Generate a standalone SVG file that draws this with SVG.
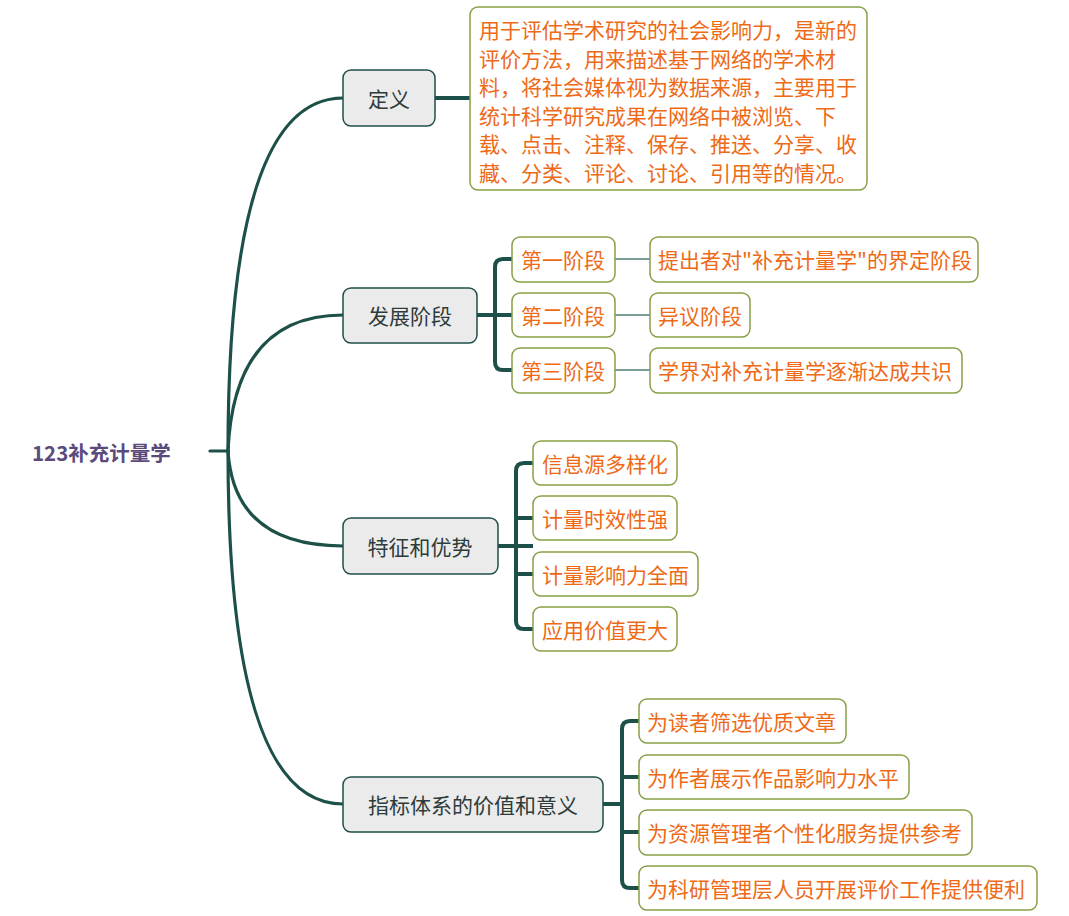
<svg xmlns="http://www.w3.org/2000/svg" width="1069" height="916" viewBox="0 0 1069 916">
<style>
text{font-family:"Noto Sans CJK SC","Noto Sans",sans-serif;dominant-baseline:central;font-size:21px}
.br rect{fill:#ebebeb;stroke:#1f4f4a;stroke-width:1.5}
.br text{fill:#2d3b3b;text-anchor:middle}
.lf rect{fill:#fff;stroke:#86a046;stroke-width:1.5}
.lf text{fill:#ee6a16}
.main{fill:none;stroke:#1d5048;stroke-width:3.2;stroke-linecap:round}
.brk{fill:none;stroke:#1d5048;stroke-width:4}
.thin{fill:none;stroke:#4e7d75;stroke-width:1.6}
</style>
<rect width="1069" height="916" fill="#fff"/>
<g id="connectors">
<path class="main" d="M210,451 H228"/>
<path class="main" d="M228,451 Q228,98 343,98"/>
<path class="main" d="M228,451 Q234,315 343,315"/>
<path class="main" d="M228,451 Q234,546 343,546"/>
<path class="main" d="M228,451 Q228,804 343,804"/>
<path class="brk" d="M435,98 H470"/>
<path class="brk" d="M477,315 H512 M512,259 H503 Q495,259 495,267 V362 Q495,370 503,370 H512"/>
<path class="brk" d="M498,546 H533 M533,463 H524 Q516,463 516,471 V621 Q516,629 524,629 H533 M516,518 H533 M516,574 H533"/>
<path class="brk" d="M603,804 H622 M639,721 H630 Q622,721 622,729 V880 Q622,888 630,888 H639 M622,777 H639 M622,832 H639"/>
<path class="thin" d="M615,259 H650 M615,315 H650 M615,370 H650"/>
</g>
<g id="root"><text x="32" y="452" style="font-size:20.5px;font-weight:bold;fill:#5b4b7d">123补充计量学</text></g>
<g id="n-def" class="br"><rect x="343" y="70" width="92" height="56" rx="8"/><text x="389" y="98">定义</text></g>
<g id="n-def-text" class="lf"><rect x="470" y="7" width="397" height="183" rx="8"/>
<text x="479" y="29">用于评估学术研究的社会影响力，是新的</text>
<text x="479" y="57.6">评价方法，用来描述基于网络的学术材</text>
<text x="479" y="86.2">料，将社会媒体视为数据来源，主要用于</text>
<text x="479" y="114.8">统计科学研究成果在网络中被浏览、下</text>
<text x="479" y="143.4">载、点击、注释、保存、推送、分享、收</text>
<text x="479" y="172">藏、分类、评论、讨论、引用等的情况。</text>
</g>
<g id="n-stage" class="br"><rect x="343" y="288" width="134" height="55" rx="8"/><text x="410" y="315">发展阶段</text></g>
<g id="n-s1" class="lf"><rect x="512" y="237" width="103" height="45" rx="8"/><text x="521" y="259">第一阶段</text></g>
<g id="n-s2" class="lf"><rect x="512" y="293" width="103" height="44" rx="8"/><text x="521" y="315">第二阶段</text></g>
<g id="n-s3" class="lf"><rect x="512" y="348" width="103" height="45" rx="8"/><text x="521" y="370">第三阶段</text></g>
<g id="n-s1d" class="lf"><rect x="650" y="237" width="328" height="45" rx="8"/><text x="658" y="259">提出者对"补充计量学"的界定阶段</text></g>
<g id="n-s2d" class="lf"><rect x="650" y="293" width="100" height="44" rx="8"/><text x="658" y="315">异议阶段</text></g>
<g id="n-s3d" class="lf"><rect x="650" y="348" width="312" height="45" rx="8"/><text x="658" y="370">学界对补充计量学逐渐达成共识</text></g>
<g id="n-feat" class="br"><rect x="343" y="518" width="155" height="56" rx="8"/><text x="420" y="546">特征和优势</text></g>
<g id="n-f1" class="lf"><rect x="533" y="441" width="144" height="44" rx="8"/><text x="542" y="463">信息源多样化</text></g>
<g id="n-f2" class="lf"><rect x="533" y="496" width="144" height="44" rx="8"/><text x="542" y="518">计量时效性强</text></g>
<g id="n-f3" class="lf"><rect x="533" y="552" width="165" height="44" rx="8"/><text x="542" y="574">计量影响力全面</text></g>
<g id="n-f4" class="lf"><rect x="533" y="607" width="144" height="44" rx="8"/><text x="542" y="629">应用价值更大</text></g>
<g id="n-val" class="br"><rect x="343" y="777" width="260" height="55" rx="8"/><text x="473" y="804">指标体系的价值和意义</text></g>
<g id="n-v1" class="lf"><rect x="639" y="699" width="207" height="44" rx="8"/><text x="647" y="721">为读者筛选优质文章</text></g>
<g id="n-v2" class="lf"><rect x="639" y="755" width="270" height="44" rx="8"/><text x="647" y="777">为作者展示作品影响力水平</text></g>
<g id="n-v3" class="lf"><rect x="639" y="810" width="333" height="45" rx="8"/><text x="647" y="832">为资源管理者个性化服务提供参考</text></g>
<g id="n-v4" class="lf"><rect x="639" y="866" width="398" height="44" rx="8"/><text x="647" y="888">为科研管理层人员开展评价工作提供便利</text></g>
</svg>
